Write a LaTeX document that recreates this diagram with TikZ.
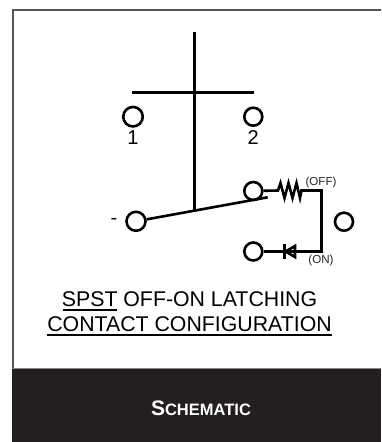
\documentclass[tikz,border=0pt]{standalone}
\usepackage{fontspec}
\setmainfont{Liberation Sans}
\definecolor{panel}{HTML}{231F20}
\definecolor{edgegray}{HTML}{555555}
\tikzset{
  wire/.style={line width=2.6pt,black},
  term/.style={circle,draw=black,line width=2.6pt,fill=white,minimum size=18pt,inner sep=0pt},
  lbl/.style={inner sep=0pt,font=\fontsize{20}{20}\selectfont},
  tiny/.style={inner sep=0pt,font=\fontsize{11.6}{11.6}\selectfont,text=black!85}
}
\begin{document}
\begin{tikzpicture}[x=1pt,y=-1pt]
\useasboundingbox (0,0) rectangle (381,442);
\fill[white] (0,0) rectangle (381,442);
\draw[edgegray,line width=2pt] (381,9.5) -- (13,9.5) -- (13,368);
\fill[panel] (12,368) rectangle (381,442);
\draw[edgegray!70,line width=1.2pt] (12,368.7) -- (381,368.7);
\node[text=white,inner sep=0pt] (title) at (201,408) {\bfseries\fontsize{21}{21}\selectfont S\fontsize{16.5}{16.5}\selectfont CHEMATIC};
% cross
\coordinate (top) at (194.3,32);
\coordinate (pivot) at (194.3,211.5);
\coordinate (barL) at (132,92.7);
\coordinate (barR) at (254,92.7);
\draw[wire] (top) -- (pivot);
\draw[wire] (barL) -- (barR);
\node[term,minimum size=19.5pt] (t1) at (133,116.7) {};
\node[term] (t2) at (253.3,116.7) {};
\node[lbl] (n1) at (133,137.5) {1};
\node[lbl] (n2) at (253.3,137.5) {2};
% switch
\node[term,minimum size=19pt] (com) at (136,221.3) {};
\node[term] (off) at (253.3,191) {};
\node[term] (on) at (253.3,251.5) {};
\node[term] (free) at (344,221.7) {};
\node[lbl] (minus) at (114,221) {-};
\coordinate (tip) at (267.7,197.3);
\draw[wire] (com) -- (tip);
\coordinate (rs) at (278,190.5);
\coordinate (re) at (301.5,190.5);
\coordinate (corner1) at (321.5,190.5);
\coordinate (corner2) at (321.5,251.5);
\coordinate (da) at (284.5,251.5);
\coordinate (db) at (295,251.5);
\draw[wire,line join=miter] (off) -- (rs) -- (280.5,183) -- (284.5,198) -- (288.5,183) -- (292.5,198) -- (296.5,183) -- (300,198) -- (re) -- (corner1) -- (corner2) -- (db);
\draw[wire] (db) -- (da) -- (on);
\draw[wire,line join=miter] (295,246) -- (295,257) -- (285.5,251.5) -- cycle;
\draw[wire] (284.5,243.5) -- (284.5,259);
\node[tiny] (loff) at (321,182) {(OFF)};
\node[tiny] (lon) at (321,260.8) {(ON)};
% caption
\node[lbl,anchor=base] (c1) at (189.5,306.5) {\fontsize{21.3}{22}\selectfont SPST OFF-ON LATCHING};
\node[lbl,anchor=base] (c2) at (189.5,331.5) {\fontsize{21.3}{22}\selectfont CONTACT CONFIGURATION};
\coordinate (u1a) at (63,310);
\coordinate (u1b) at (117,310);
\coordinate (u2a) at (47,335);
\coordinate (u2b) at (332,335);
\draw[black,line width=1.1pt] (u1a) -- (u1b);
\draw[black,line width=1.1pt] (u2a) -- (u2b);
\end{tikzpicture}
\end{document}
